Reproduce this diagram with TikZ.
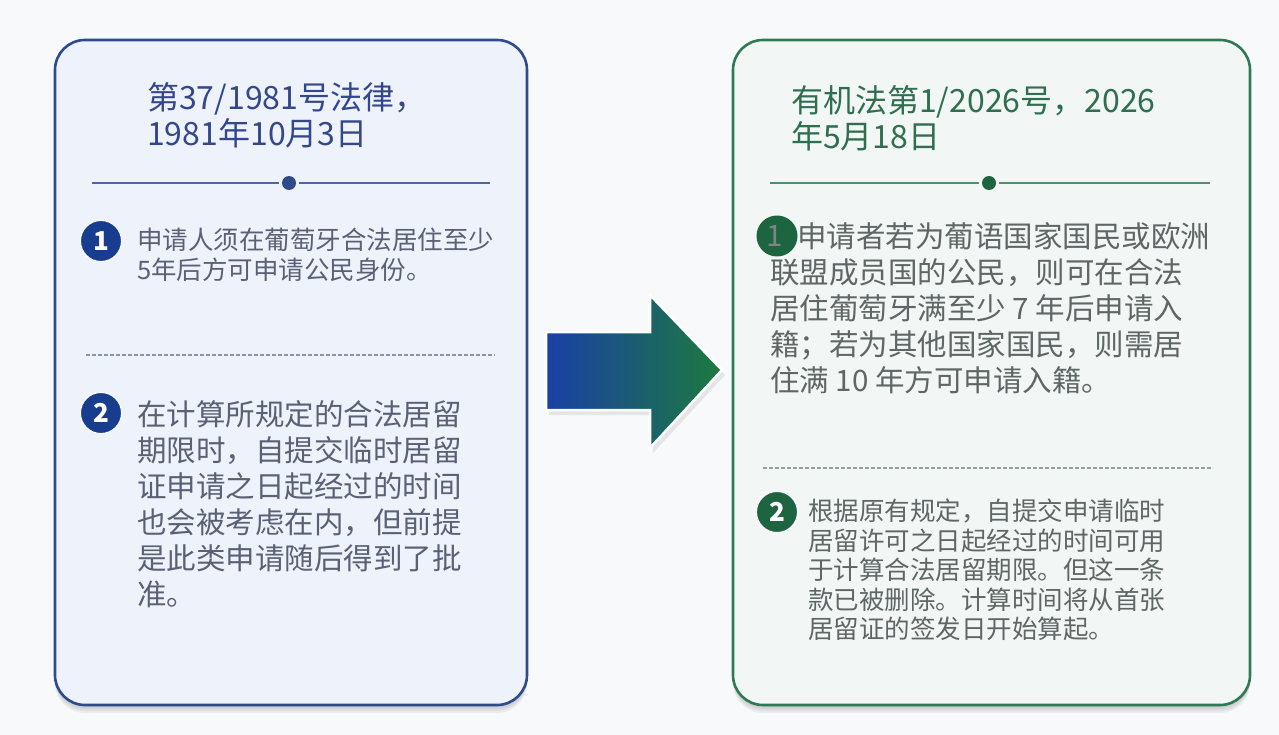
\documentclass[tikz,border=0pt]{standalone}
\usepackage{fontspec}
\newfontfamily\cjk{Noto Sans CJK SC}
\usetikzlibrary{calc}
\definecolor{bgc}{HTML}{F8F9FB}
\definecolor{lborder}{HTML}{2F4B8C}
\definecolor{lfill}{HTML}{EEF2FB}
\definecolor{ltitle}{HTML}{34478A}
\definecolor{ltext}{HTML}{5A6174}
\definecolor{lbadge}{HTML}{183C8E}
\definecolor{ldash}{HTML}{8A93A8}
\definecolor{rborder}{HTML}{2F7A55}
\definecolor{rfill}{HTML}{F2F6F4}
\definecolor{rtitle}{HTML}{2F6E4F}
\definecolor{rtext}{HTML}{5E6765}
\definecolor{rbadge}{HTML}{1D6540}
\definecolor{rdash}{HTML}{8FA39A}
\definecolor{arrblue}{HTML}{1A3FA6}
\definecolor{arrgreen}{HTML}{1C7A3E}
\tikzset{
  card/.style={rounded corners=30pt, line width=2.6pt},
  cardshadow/.style={rounded corners=30pt, fill=black, opacity=0.05},
  badge/.style={circle, minimum size=41pt, inner sep=0pt, draw=white, line width=1pt},
  badgenum/.style={text=white, font={\cjk\bfseries\fontsize{26}{26}\selectfont}},
  titletext/.style={anchor=north west, inner sep=0pt, align=left, font={\cjk\fontsize{32}{36}\selectfont}},
  bigtext/.style={anchor=north west, inner sep=0pt, align=left, font={\cjk\fontsize{29.5}{36}\selectfont}},
  smalltext/.style={anchor=north west, inner sep=0pt, align=left, font={\cjk\fontsize{25.5}{29.5}\selectfont}},
  divdot/.style={circle, minimum size=14pt, inner sep=0pt},
}
\begin{document}
\begin{tikzpicture}[x=1pt,y=-1pt]
\useasboundingbox (0,0) rectangle (1279,735);
\fill[bgc] (0,0) rectangle (1279,735);

% ---------- left card ----------
\foreach \d in {2,4,6,8} {
  \fill[cardshadow] (55,{40+\d}) rectangle (527,{705+\d});
}
\draw[card, draw=lborder, fill=lfill] (55,40) rectangle (527,705);

\node[titletext, text=ltitle] (ltitle) at (147,82) {第37/1981号法律，\\1981年10月3日};

\node[divdot, fill=lborder] (ldot) at (289,183) {};
\coordinate (ldl) at (92,183);
\coordinate (ldr) at (490,183);
\draw[lborder!85, line width=1.6pt] (ldl) -- ($(ldot.west)+(-3,0)$);
\draw[lborder!85, line width=1.6pt] ($(ldot.east)+(3,0)$) -- (ldr);

\node[badge, fill=lbadge] (lb1) at (101,241) {};
\node[badgenum] at (lb1) {1};
\node[smalltext, text=ltext] (lt1) at (137,228) {申请人须在葡萄牙合法居住至少\\5年后方可申请公民身份。};

\coordinate (lda) at (86,355);
\coordinate (ldb) at (495,355);
\draw[ldash, line width=1.3pt, dash pattern=on 3.5pt off 2.5pt] (lda) -- (ldb);

\node[badge, fill=lbadge] (lb2) at (101,413) {};
\node[badgenum] at (lb2) {2};
\node[bigtext, text=ltext] (lt2) at (137,400) {在计算所规定的合法居留\\期限时，自提交临时居留\\证申请之日起经过的时间\\也会被考虑在内，但前提\\是此类申请随后得到了批\\准。};

% ---------- right card ----------
\foreach \d in {2,4,6,8} {
  \fill[cardshadow] (733,{40+\d}) rectangle (1250,{705+\d});
}
\draw[card, draw=rborder, fill=rfill] (733,40) rectangle (1250,705);

\node[titletext, text=rtitle] (rtitle) at (791,85) {有机法第1/2026号，2026\\年5月18日};

\node[divdot, fill=rbadge] (rdot) at (989,183) {};
\coordinate (rdl) at (770,183);
\coordinate (rdr) at (1210,183);
\draw[rborder!85, line width=1.6pt] (rdl) -- ($(rdot.west)+(-3,0)$);
\draw[rborder!85, line width=1.6pt] ($(rdot.east)+(3,0)$) -- (rdr);

\node[badge, fill=rbadge, draw=none] (rb1) at (777,236) {};
\node[text=rtext!80, font={\cjk\fontsize{29.5}{36}\selectfont}] at (775,236) {1};
\node[bigtext, text=rtext] (rt1) at (770,222) {\hspace*{27pt}申请者若为葡语国家国民或欧洲\\联盟成员国的公民，则可在合法\\居住葡萄牙满至少 7 年后申请入\\籍；若为其他国家国民，则需居\\住满 10 年方可申请入籍。};

\coordinate (rda) at (763,468);
\coordinate (rdb) at (1213,468);
\draw[rdash, line width=1.3pt, dash pattern=on 3.5pt off 2.5pt] (rda) -- (rdb);

\node[badge, fill=rbadge] (rb2) at (777,512) {};
\node[badgenum] at (rb2) {2};
\node[smalltext, text=rtext] (rt2) at (808,499) {根据原有规定，自提交申请临时\\居留许可之日起经过的时间可用\\于计算合法居留期限。但这一条\\款已被删除。计算时间将从首张\\居留证的签发日开始算起。};

% ---------- arrow ----------
\coordinate (a1) at (546,332);
\coordinate (a2) at (650,332);
\coordinate (a3) at (650,295);
\coordinate (a4) at (722,370);
\coordinate (a5) at (650,448);
\coordinate (a6) at (650,410);
\coordinate (a7) at (546,410);
\fill[black, opacity=0.08] ($(a1)+(3,5)$) -- ($(a2)+(3,5)$) -- ($(a3)+(3,5)$) -- ($(a4)+(3,5)$) -- ($(a5)+(3,5)$) -- ($(a6)+(3,5)$) -- ($(a7)+(3,5)$) -- cycle;
\shade[left color=arrblue, right color=arrgreen, draw=white, line width=2.5pt, line join=miter]
  (a1) -- (a2) -- (a3) -- (a4) -- (a5) -- (a6) -- (a7) -- cycle;
\end{tikzpicture}
\end{document}
